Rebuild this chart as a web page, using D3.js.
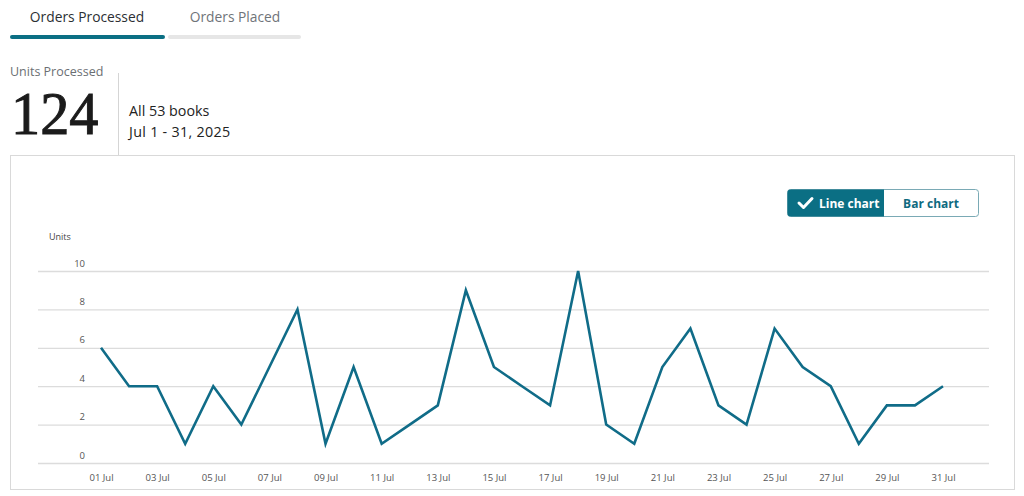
<!DOCTYPE html>
<html><head><meta charset="utf-8">
<script src="https://cdn.jsdelivr.net/npm/d3@7"></script>
<style>
html,body{margin:0;padding:0;background:#fff;}
svg{display:block;font-family:"Open Sans","Noto Sans",sans-serif;}
</style></head>
<body>
<svg id="c" width="1024" height="496"></svg>
<script>
const days = d3.range(1, 32);
const units = [6,4,4,1,4,2,5,8,1,5,1,2,3,9,5,4,3,10,2,1,5,7,3,2,7,5,4,1,3,3,4];
const yTicks = [0,2,4,6,8,10];
const xTickDays = d3.range(1, 32, 2);
const tabs = ["Orders Processed", "Orders Placed"];
const toggles = ["Line chart", "Bar chart"];
const totalUnits = d3.sum(units);

const teal = "#0b6f84";
const lineColor = "#106c88";
const svg = d3.select("#c");

// Tabs
svg.append("text").attr("x", 87).attr("y", 22).attr("text-anchor", "middle")
  .attr("font-size", 13.8).attr("fill", "#2b2f33").text(tabs[0]);
svg.append("text").attr("x", 235).attr("y", 22).attr("text-anchor", "middle")
  .attr("font-size", 13.8).attr("fill", "#6f7479").text(tabs[1]);
svg.append("rect").attr("x", 168).attr("y", 35).attr("width", 133).attr("height", 4)
  .attr("rx", 2).attr("fill", "#e6e6e6");
svg.append("rect").attr("x", 10).attr("y", 35).attr("width", 155).attr("height", 4)
  .attr("rx", 2).attr("fill", teal);

// Summary
svg.append("text").attr("x", 10).attr("y", 76).attr("font-size", 12.5)
  .attr("fill", "#6b6f73").text("Units Processed");
svg.append("text").attr("transform", "translate(11,134) scale(0.94,1)").attr("font-size", 62)
  .attr("font-family", "'Liberation Serif','DejaVu Serif',serif")
  .attr("fill", "#1b1b1b").attr("stroke", "#1b1b1b").attr("stroke-width", 1).text(totalUnits);
svg.append("line").attr("x1", 118.5).attr("x2", 118.5).attr("y1", 73).attr("y2", 155)
  .attr("stroke", "#d5d5d5");
svg.append("text").attr("x", 129).attr("y", 116).attr("font-size", 14.3)
  .attr("fill", "#222").text("All 53 books");
svg.append("text").attr("x", 129).attr("y", 137).attr("font-size", 14.3)
  .attr("fill", "#222").attr("letter-spacing", 0.3).text("Jul 1 - 31, 2025");

// Card
svg.append("rect").attr("x", 10.5).attr("y", 155.5).attr("width", 1004).attr("height", 334)
  .attr("fill", "none").attr("stroke", "#d9d9d9");

// Toggle
const tg = svg.append("g");
tg.append("rect").attr("x", 787.5).attr("y", 189.5).attr("width", 191).attr("height", 27)
  .attr("rx", 3).attr("fill", "#fff").attr("stroke", "#7aaab5");
tg.append("path").attr("d", "M790.5,189.5 H884 V216.5 H790.5 Q787.5,216.5 787.5,213.5 V192.5 Q787.5,189.5 790.5,189.5 Z")
  .attr("fill", teal);
tg.append("path").attr("d", "M799,203 L803.5,207.5 L812,198.5").attr("fill", "none")
  .attr("stroke", "#fff").attr("stroke-width", 3).attr("stroke-linecap", "round").attr("stroke-linejoin", "round");
tg.append("text").attr("x", 819).attr("y", 207.5).attr("font-size", 12).attr("font-weight", 700)
  .attr("fill", "#fff").text(toggles[0]);
tg.append("text").attr("x", 931).attr("y", 207.5).attr("text-anchor", "middle").attr("font-size", 12)
  .attr("font-weight", 700).attr("fill", "#0f6a80").text(toggles[1]);

// Scales
const x = d3.scaleLinear().domain([1, 31]).range([101, 943]);
const y = d3.scaleLinear().domain([0, 10]).range([463, 271]);

svg.append("text").attr("x", 49).attr("y", 240).attr("font-size", 9)
  .attr("fill", "#444").text("Units");

// Y grid + labels
const yAxis = d3.axisLeft(y).tickValues(yTicks).tickSize(-(989 - 38)).tickPadding(0);
const yg = svg.append("g").attr("transform", "translate(38,0)").call(yAxis);
yg.select(".domain").remove();
yg.selectAll(".tick line").attr("stroke", "#dcdcdc").attr("stroke-width", 1.3);
yg.selectAll(".tick text").attr("x", 47).attr("dy", -5).attr("text-anchor", "end")
  .attr("font-size", 9.5).attr("fill", "#555").attr("font-family", "'Open Sans','Noto Sans',sans-serif");

// X labels
const xAxis = d3.axisBottom(x).tickValues(xTickDays).tickSize(0).tickPadding(0)
  .tickFormat(d => String(d).padStart(2, "0") + " Jul");
const xg = svg.append("g").attr("transform", "translate(0,474)").call(xAxis);
xg.select(".domain").remove();
xg.selectAll(".tick text").attr("font-size", 9.5).attr("fill", "#555")
  .attr("font-family", "'Open Sans','Noto Sans',sans-serif").attr("dy", "0.71em");

// Line
const line = d3.line().x((d, i) => x(days[i])).y(d => y(d));
svg.append("path").datum(units).attr("d", line).attr("fill", "none")
  .attr("stroke", lineColor).attr("stroke-width", 2.6).attr("stroke-linejoin", "miter");
</script>
</body></html>
